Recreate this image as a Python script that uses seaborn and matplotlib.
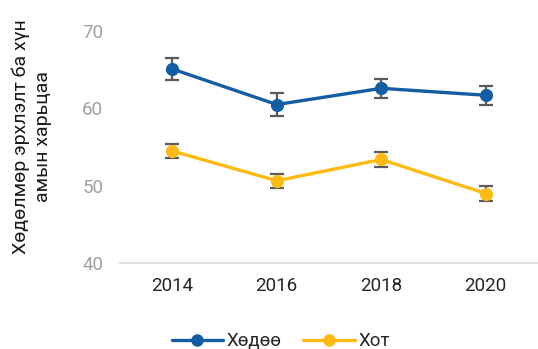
import matplotlib
matplotlib.use("Agg")
import matplotlib.pyplot as plt
import seaborn as sns
import pandas as pd

years = [2014, 2016, 2018, 2020]
rural = [65.1, 60.5, 62.6, 61.7]
rural_err = [1.45, 1.5, 1.26, 1.25]
urban = [54.5, 50.65, 53.4, 49.0]
urban_err = [0.95, 0.93, 1.0, 0.92]
series_names = ["Хөдөө", "Хот"]
colors = ["#155DA3", "#FDBA12"]

sns.set_theme(style="white")
plt.rcParams["font.family"] = ["Roboto", "DejaVu Sans"]

df = pd.DataFrame({
    "year": years * 2,
    "value": rural + urban,
    "group": [series_names[0]] * 4 + [series_names[1]] * 4,
})

fig = plt.figure(figsize=(5.38, 3.49), dpi=100)
ax = fig.add_axes([0.223, 0.246, 0.777, 0.665])

for vals, errs in ((rural, rural_err), (urban, urban_err)):
    ax.errorbar(years, vals, yerr=errs, fmt="none", ecolor="#5a5a5a",
                elinewidth=1.6, capsize=5, capthick=1.6, zorder=2)

sns.lineplot(data=df, x="year", y="value", hue="group", palette=colors,
             marker="o", markersize=9.5, markeredgewidth=0, linewidth=2.4,
             ax=ax, zorder=3, legend=True)

ax.set_xlim(2013, 2021)
ax.set_ylim(40, 70)
ax.set_xticks(years)
ax.set_yticks([40, 50, 60, 70])
ax.tick_params(axis="x", length=0, pad=10, labelsize=13.5, labelcolor="#262626")
ax.tick_params(axis="y", length=0, pad=12, labelsize=13.5, labelcolor="#a0a0a0")
ax.set_xlabel("")
ax.set_ylabel("Хөдөлмөр эрхлэлт ба хүн\nамын харьцаа", fontsize=14,
              color="#1a1a1a", linespacing=1.25)
ax.yaxis.set_label_coords(-0.163, 0.545)

for side in ("top", "right", "left"):
    ax.spines[side].set_visible(False)
ax.spines["bottom"].set_color("#d9d9d9")
ax.spines["bottom"].set_linewidth(1.2)

handles, labels = ax.get_legend_handles_labels()
for h in handles:
    h.set_markersize(9)
ax.legend(handles, labels, loc="center", bbox_to_anchor=(0.385, -0.336),
          ncol=2, frameon=False, fontsize=13.5, handlelength=2.75,
          columnspacing=1.15, handletextpad=0.2, labelcolor="#262626")

fig.savefig("out.png", dpi=100)
